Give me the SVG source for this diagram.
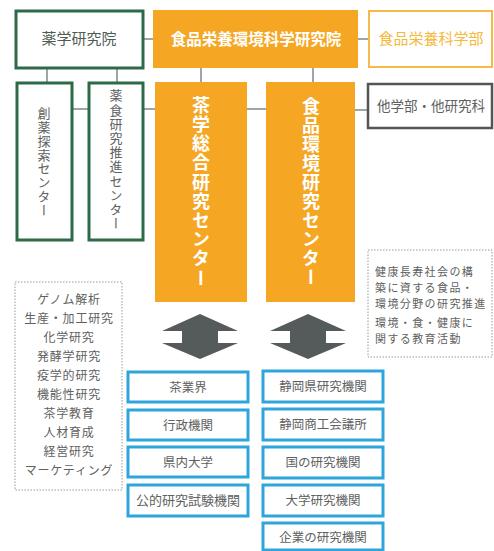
<svg xmlns="http://www.w3.org/2000/svg" width="494" height="551" viewBox="0 0 494 551">
<style>
text{font-family:"Noto Sans CJK JP","Noto Sans",sans-serif}
.g{fill:#fff;stroke:#2d6a47;stroke-width:3}
.o{fill:#f5a623}
.ol{fill:#fff;stroke:#f7b948;stroke-width:2}
.gr{fill:#fff;stroke:#555;stroke-width:2.5}
.b{fill:#fff;stroke:#2ea6dc;stroke-width:3}
.d{fill:#fff;stroke:#999;stroke-width:1;stroke-dasharray:1.5 1.5}
.c{stroke:#7d8a8a;stroke-width:1.5;fill:none}
.t{fill:#5e6160;font-size:12.5px;text-anchor:middle}
.v{writing-mode:vertical-rl;text-anchor:middle}
.w{fill:#fff;font-weight:bold}
</style>
<defs>
<path id="arr" d="M0,-45 L38,-28 L18,-28 L18,-16 L38,-16 L0,0 L-38,-16 L-18,-16 L-18,-28 L-38,-28 Z"/>
</defs>
<g id="connectors">
<line class="c" x1="143" y1="39" x2="153" y2="39"/>
<line class="c" x1="358" y1="39" x2="368" y2="39"/>
<line class="c" x1="47" y1="68" x2="47" y2="82"/>
<line class="c" x1="117" y1="68" x2="117" y2="82"/>
<line class="c" x1="201" y1="68" x2="201" y2="82"/>
<line class="c" x1="313" y1="68" x2="313" y2="82"/>
<line class="c" x1="72" y1="109" x2="88" y2="109"/>
<line class="c" x1="143" y1="109" x2="155" y2="109"/>
<line class="c" x1="247" y1="109" x2="266" y2="109"/>
<line class="c" x1="355" y1="110" x2="367" y2="110"/>
<use href="#arr" transform="translate(200,359)" fill="#555b5b"/>
<use href="#arr" transform="translate(308,359)" fill="#555b5b"/>
</g>
<g id="yakugaku">
<rect class="g" x="16" y="11" width="127" height="57"/>
<text x="79" y="44" style="fill:#4f5c55;font-size:15px;text-anchor:middle">薬学研究院</text>
</g>
<g id="shokuhin-in">
<rect class="o" x="153" y="10" width="205" height="58"/>
<text x="256" y="45" class="w" style="font-size:15.5px;text-anchor:middle">食品栄養環境科学研究院</text>
</g>
<g id="shokuhin-bu">
<rect class="ol" x="369" y="11" width="123" height="56"/>
<text x="431" y="44" style="fill:#f5b93e;font-size:15px;text-anchor:middle">食品栄養科学部</text>
</g>
<g id="souyaku">
<rect class="g" x="17" y="83" width="55" height="157"/>
<text x="44" y="162" class="v" style="fill:#5e6160;font-size:13px;letter-spacing:0.8px">創薬探索センター</text>
</g>
<g id="yakushoku">
<rect class="g" x="89" y="83" width="54" height="157"/>
<text x="116" y="160" class="v" style="fill:#5e6160;font-size:13px;letter-spacing:1.2px">薬食研究推進センター</text>
</g>
<g id="chagaku">
<rect class="o" x="155" y="82" width="92" height="220"/>
<text x="201" y="192" class="v w" style="font-size:18px;letter-spacing:1.2px">茶学総合研究センター</text>
</g>
<g id="shokuhinkankyo">
<rect class="o" x="266" y="82" width="89" height="220"/>
<text x="311" y="192" class="v w" style="font-size:18px;letter-spacing:1px">食品環境研究センター</text>
</g>
<g id="tagakubu">
<rect class="gr" x="368" y="84" width="124" height="44"/>
<text x="431" y="111" style="fill:#5e6160;font-size:13.5px;text-anchor:middle">他学部・他研究科</text>
</g>
<g id="right-note">
<rect class="d" x="368" y="250" width="124" height="107"/>
<g style="fill:#5e6160;font-size:11px;letter-spacing:1.4px">
<text x="375" y="276">健康長寿社会の構</text>
<text x="375" y="292">築に資する食品・</text>
<text x="375" y="308">環境分野の研究推進</text>
<text x="375" y="327">環境・食・健康に</text>
<text x="375" y="343">関する教育活動</text>
</g>
</g>
<g id="left-note">
<rect class="d" x="15" y="282" width="107" height="208"/>
<g class="t" style="font-size:12px;letter-spacing:0.8px">
<text x="69" y="304">ゲノム解析</text>
<text x="69" y="323">生産・加工研究</text>
<text x="69" y="342">化学研究</text>
<text x="69" y="361">発酵学研究</text>
<text x="69" y="380">疫学的研究</text>
<text x="69" y="399">機能性研究</text>
<text x="69" y="418">茶学教育</text>
<text x="69" y="437">人材育成</text>
<text x="69" y="456">経営研究</text>
<text x="69" y="475">マーケティング</text>
</g>
</g>
<g id="b1"><rect class="b" x="128" y="372" width="120" height="30"/><text class="t" x="188" y="392">茶業界</text></g>
<g id="b2"><rect class="b" x="128" y="410" width="120" height="30"/><text class="t" x="188" y="430">行政機関</text></g>
<g id="b3"><rect class="b" x="128" y="447" width="120" height="30"/><text class="t" x="188" y="467">県内大学</text></g>
<g id="b4"><rect class="b" x="128" y="485" width="120" height="31"/><text class="t" x="188" y="505" style="font-size:13px">公的研究試験機関</text></g>
<g id="b5"><rect class="b" x="263" y="371" width="120" height="31"/><text class="t" x="323" y="391">静岡県研究機関</text></g>
<g id="b6"><rect class="b" x="263" y="409" width="120" height="31"/><text class="t" x="323" y="429">静岡商工会議所</text></g>
<g id="b7"><rect class="b" x="263" y="447" width="120" height="31"/><text class="t" x="323" y="467">国の研究機関</text></g>
<g id="b8"><rect class="b" x="263" y="485" width="120" height="31"/><text class="t" x="323" y="505">大学研究機関</text></g>
<g id="b9"><rect class="b" x="263" y="523" width="120" height="27"/><text class="t" x="323" y="542">企業の研究機関</text></g>
</svg>
